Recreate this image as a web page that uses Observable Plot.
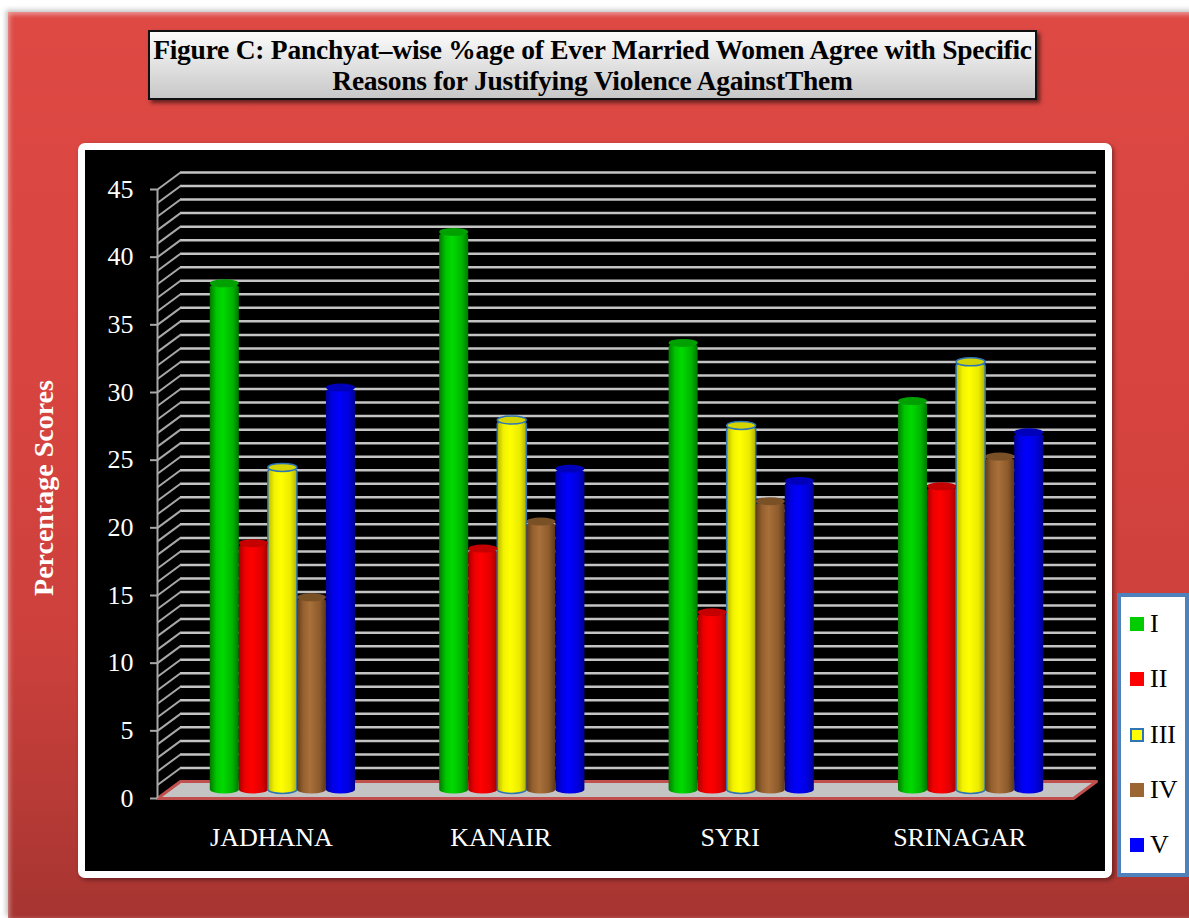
<!DOCTYPE html>
<html>
<head>
<meta charset="utf-8">
<script src="https://cdn.jsdelivr.net/npm/d3@7"></script>
<script src="https://cdn.jsdelivr.net/npm/@observablehq/plot@0.6"></script>
<style>
  html, body { margin: 0; padding: 0; background: #fff; }
  #page { position: relative; width: 1189px; height: 918px; overflow: hidden; font-family: "Liberation Serif", "Times New Roman", serif; }
  #panel { position: absolute; left: 8px; top: 12px; width: 1200px; height: 906px;
    background: linear-gradient(to bottom, #de4944 0%, #d8443f 40%, #cc403c 70%, #b33935 90%, #a63430 100%);
    box-shadow: -2px -2px 5px rgba(0,0,0,0.25), inset 0 3px 4px rgba(255,255,255,0.35), inset 3px 0 4px rgba(255,255,255,0.2); }
  #title { position: absolute; left: 148px; top: 30px; width: 889px; height: 70px; box-sizing: border-box;
    border: 2px solid #111; background: linear-gradient(to bottom, #fbfbfb, #c8c8c8);
    box-shadow: 3px 3px 4px rgba(0,0,0,0.55); text-align: center; font-weight: bold; font-size: 27.5px;
    line-height: 31px; padding-top: 2px; color: #000; letter-spacing: -0.25px; }
  #frame { position: absolute; left: 78px; top: 143px; width: 1034px; height: 735px; box-sizing: border-box;
    background: #000; border: 7px solid #fff; border-radius: 7px; box-shadow: 2px 2px 4px rgba(0,0,0,0.4); }
  #ylabel { position: absolute; left: -106px; top: 473px; width: 300px; height: 30px; line-height: 30px;
    text-align: center; transform: rotate(-90deg); color: #fff; font-weight: bold; font-size: 28px; }
  .plotlayer { position: absolute; left: 0; top: 0; }
  #legend { position: absolute; left: 1117px; top: 593px; width: 72px; height: 284px; box-sizing: border-box;
    border: 4px solid #4f81bd; background: #fff; }
  .li { position: absolute; left: 9px; height: 30px; line-height: 30px; font-size: 26px; color: #000; }
  .sw { display: inline-block; width: 14px; height: 14px; vertical-align: middle; margin-right: 6px; position: relative; top: -2px; box-sizing: border-box; }
</style>
</head>
<body>
<div id="page">
  <div id="panel"></div>
  <div id="title">Figure C: Panchyat–wise %age of Ever Married Women Agree with Specific<br>Reasons for Justifying Violence AgainstThem</div>
  <div id="frame"></div>
  <div id="ylabel">Percentage Scores</div>
  <div id="legend"></div>
</div>
<script>
// ---- data ----
const categories = ["JADHANA", "KANAIR", "SYRI", "SRINAGAR"];
const series = ["I", "II", "III", "IV", "V"];
const valuesI   = [37.4, 41.2, 33.0, 28.7];
const valuesII  = [18.2, 17.8, 13.1, 22.4];
const valuesIII = [23.8, 27.3, 26.9, 31.6];
const valuesIV  = [14.2, 19.8, 21.3, 24.6];
const valuesV   = [29.7, 23.7, 22.8, 26.4];
const yTicks = [0, 5, 10, 15, 20, 25, 30, 35, 40, 45];
const yGrid = d3.range(0, 46);

// ---- styles ----
const seriesValues = [valuesI, valuesII, valuesIII, valuesIV, valuesV];
const legendColors = ["#00cc00", "#ff0000", "#ffff00", "#9c6632", "#0000ff"];
const gradStops = [
  ["#007a00", "#00c400", "#00da00", "#00b400", "#007800"],
  ["#a80000", "#ee0000", "#ff0000", "#e00000", "#a00000"],
  ["#b8b800", "#f2f200", "#ffff00", "#eaea00", "#b0b000"],
  ["#603c1a", "#95602f", "#a8703a", "#8e5b2c", "#5a3818"],
  ["#00009a", "#0000e4", "#0000ff", "#0000dc", "#000090"]
];
const capColors = ["#00a000", "#c40000", "#d4d400", "#7a5026", "#0000bb"];
const outline = ["none", "none", "#2e75b6", "none", "none"];

const rows = [];
series.forEach((s, i) => categories.forEach((c, j) => rows.push({category: c, series: s, value: seriesValues[i][j]})));

// ---- layout ----
const W = 1189, H = 918, ML = 168.5, MR = 104.5, MT = 180.5, MB = 128.5;
const DEPTH_X = 23, DEPTH_Y = 17;
const frameW = W - ML - MR, frameH = H - MT - MB;
const pxPerUnit = frameH / 45;
const hx = DEPTH_X / 2 / frameW, hy = DEPTH_Y / 2 / pxPerUnit;
const PI_ = 0.367, PO_ = 0.18;
const step = frameW / (categories.length - PI_ + 2 * PO_);
const barW = step * (1 - PI_) / series.length;
const font = "Liberation Serif";

const floor = [
  {x: -hx, y: -hy}, {x: 1 - hx, y: -hy}, {x: 1 + hx, y: hy}, {x: hx, y: hy}
];

const bg = Plot.plot({
  width: W, height: H, marginLeft: ML, marginRight: MR, marginTop: MT, marginBottom: MB,
  style: {background: "transparent", overflow: "visible"},
  x: {domain: [0, 1], axis: null},
  y: {domain: [0, 45], axis: null},
  marks: [
    Plot.ruleY(yGrid, {y: d => d + hy, x1: hx, x2: 1 + hx, stroke: "#c4c4c4", strokeWidth: 2.5}),
    Plot.link(yGrid, {x1: -hx, x2: hx, y1: d => d - hy, y2: d => d + hy, stroke: "#a8a8a8", strokeWidth: 2}),
    Plot.line(floor, {x: "x", y: "y", curve: "linear-closed", fill: "#c4c4c4", stroke: "#c0504d", strokeWidth: 3}),
    Plot.ruleX([-hx], {y1: -hy, y2: 45 - hy, stroke: "#a8a8a8", strokeWidth: 2}),
    Plot.axisY(yTicks, {anchor: "left", tickSize: 7, tickPadding: 17, dx: -DEPTH_X / 2, dy: DEPTH_Y / 2,
      stroke: "#a8a8a8", strokeWidth: 2, color: "#fff", fontSize: 26, fontFamily: font, label: null})
  ]
});
bg.classList.add("plotlayer");

const barMarks = [], capMarks = [];
series.forEach((s, i) => {
  const d = rows.filter(r => r.series === s);
  barMarks.push(Plot.barY(d, {fx: "category", x: "series", y1: 0, y2: "value", fill: `url(#cyl${i})`,
    insetBottom: -4, rx: barW / 2, ry: 4, stroke: outline[i], strokeWidth: 1.5}));
  capMarks.push(Plot.barY(d, {fx: "category", x: "series", y1: "value", y2: "value", insetTop: -4, insetBottom: -4,
    fill: capColors[i], rx: barW / 2, ry: 4, stroke: outline[i], strokeWidth: 1.5}));
});

const fg = Plot.plot({
  width: W, height: H, marginLeft: ML, marginRight: MR, marginTop: MT, marginBottom: MB,
  style: {background: "transparent", overflow: "visible"},
  fx: {domain: categories, paddingInner: PI_, paddingOuter: PO_, round: false, axis: null, label: null},
  x: {domain: series, padding: 0, round: false, axis: null},
  y: {domain: [0, 45], axis: null},
  marks: [
    ...barMarks, ...capMarks,
    Plot.axisFx({anchor: "bottom", tickSize: 0, tickPadding: 38, dx: -DEPTH_X / 2, color: "#fff",
      fontSize: 26, fontFamily: font, label: null})
  ]
});
fg.classList.add("plotlayer");
const defs = d3.select(fg).insert("defs", ":first-child");
gradStops.forEach((stops, i) => {
  const g = defs.append("linearGradient").attr("id", `cyl${i}`).attr("x1", 0).attr("x2", 1).attr("y1", 0).attr("y2", 0);
  [0, 0.22, 0.45, 0.78, 1].forEach((o, k) => g.append("stop").attr("offset", o).attr("stop-color", stops[k]));
});

const page = document.getElementById("page");
page.insertBefore(bg, document.getElementById("legend"));
page.insertBefore(fg, document.getElementById("legend"));

// legend
const leg = d3.select("#legend");
series.forEach((s, i) => {
  const item = leg.append("div").attr("class", "li").style("top", `${12 + i * 55.3}px`);
  item.append("span").attr("class", "sw").style("background", legendColors[i])
    .style("border", outline[i] === "none" ? "none" : `2px solid ${outline[i]}`);
  item.append("span").text(s);
});
</script>
</body>
</html>
